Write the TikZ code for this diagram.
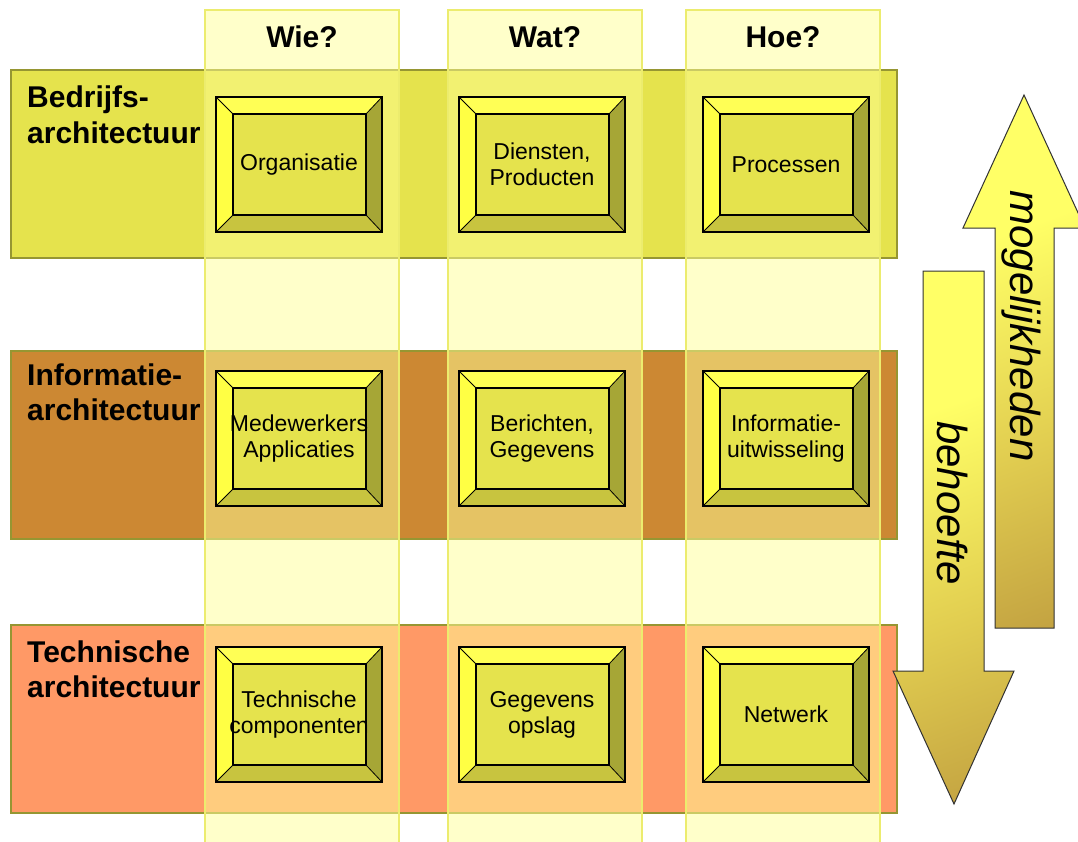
\documentclass[tikz,border=0pt]{standalone}
\usepackage{fontspec}
\setmainfont{Liberation Sans}
\definecolor{bandA}{RGB}{229,227,77}
\definecolor{bandB}{RGB}{204,136,51}
\definecolor{bandC}{RGB}{255,153,102}
\definecolor{bandline}{RGB}{150,150,50}
\definecolor{colfill}{RGB}{255,255,150}
\definecolor{colline}{RGB}{236,236,110}
\definecolor{bevT}{RGB}{255,255,85}
\definecolor{bevL}{RGB}{255,255,68}
\definecolor{bevR}{RGB}{166,166,54}
\definecolor{bevB}{RGB}{200,196,63}
\definecolor{face}{RGB}{229,227,77}
\definecolor{arrY}{RGB}{255,255,102}
\definecolor{arrG}{RGB}{225,205,80}
\definecolor{arrB}{RGB}{168,124,52}
\definecolor{arrline}{RGB}{50,50,50}
\pgfdeclareverticalshading{arrshade}{100bp}{color(0bp)=(arrB); color(40bp)=(arrG); color(65bp)=(arrY); color(100bp)=(arrY)}
\tikzset{
  band/.style={draw=bandline, line width=1.2pt},
  column/.style={fill=colfill, fill opacity=0.5, draw=colline, line width=1.2pt},
  header/.style={font=\fontsize{30}{36}\selectfont\bfseries, anchor=base, inner sep=0pt},
  rowlab/.style={font=\fontsize{30}{36}\selectfont\bfseries, anchor=base west, inner sep=0pt},
  boxtext/.style={font=\fontsize{23}{26}\selectfont, align=center, inner sep=0pt},
  boxline/.style={draw=black, line width=1.4pt},
  bigarrow/.style={shading=arrshade, shading angle=20, draw=arrline, line width=1pt},
  arrtext/.style={font=\fontsize{42}{48}\selectfont\itshape, rotate=-90, anchor=base, inner sep=0pt}
}
\newcommand\bevbox[4]{%
  \begin{scope}[shift={(#2,#3)}]
    \fill[bevT] (0,0) -- (166,0) -- (150,17) -- (17,17) -- cycle;
    \fill[bevL] (0,0) -- (17,17) -- (17,118) -- (0,135) -- cycle;
    \fill[bevR] (166,0) -- (166,135) -- (150,118) -- (150,17) -- cycle;
    \fill[bevB] (0,135) -- (17,118) -- (150,118) -- (166,135) -- cycle;
    \fill[face] (17,17) rectangle (150,118);
    \draw[boxline] (0,0) rectangle (166,135);
    \draw[boxline] (17,17) rectangle (150,118);
    \draw[black, line width=0.8pt] (0,0) -- (17,17) (166,0) -- (150,17)
      (0,135) -- (17,118) (166,135) -- (150,118);
    \begin{scope}
      \clip (12,17) rectangle (151,118);
      \node[boxtext] (#1) at (83,67.5) {#4};
    \end{scope}
  \end{scope}}
\begin{document}
\begin{tikzpicture}[x=1pt, y=-1pt]
\clip (0,0) rectangle (1078,841);
\fill[white] (0,0) rectangle (1078,841);
% row bands
\draw[band, fill=bandA] (11,70) rectangle (897,258);
\draw[band, fill=bandB] (11,351) rectangle (897,539);
\draw[band, fill=bandC] (11,625) rectangle (897,813);
% row labels
\begin{scope}
  \clip (0,0) rectangle (204,841);
  \node[rowlab] (r1a) at (27,107) {Bedrijfs-};
  \node[rowlab] (r1b) at (27,143) {architectuur};
  \node[rowlab] (r2a) at (27,385) {Informatie-};
  \node[rowlab] (r2b) at (27,420) {architectuur};
  \node[rowlab] (r3a) at (27,662) {Technische};
  \node[rowlab] (r3b) at (27,697) {architectuur};
\end{scope}
% columns
\path[column] (205,10) rectangle (399,850);
\path[column] (448,10) rectangle (642,850);
\path[column] (686,10) rectangle (880,850);
\node[header] (h1) at (302,47) {Wie?};
\node[header] (h2) at (545,47) {Wat?};
\node[header] (h3) at (783,47) {Hoe?};
% boxes
\bevbox{b11}{216}{97}{Organisatie}
\bevbox{b12}{459}{97}{Diensten,\\Producten}
\bevbox{b13}{703}{97}{Processen}
\bevbox{b21}{216}{371}{Medewerkers\\Applicaties}
\bevbox{b22}{459}{371}{Berichten,\\Gegevens}
\bevbox{b23}{703}{371}{Informatie-\\uitwisseling}
\bevbox{b31}{216}{647}{Technische\\componenten}
\bevbox{b32}{459}{647}{Gegevens\\opslag}
\bevbox{b33}{703}{647}{Netwerk}
% arrows
\path[bigarrow] (1024,95) -- (1085,228) -- (1054,228) -- (1054,628) -- (995,628) -- (995,228) -- (963,228) -- cycle;
\path[bigarrow] (923,271) -- (984,271) -- (984,671) -- (1014,671) -- (954,804) -- (893,671) -- (923,671) -- cycle;
\node[arrtext] (mog) at (1010,326) {mogelijkheden};
\node[arrtext] (beh) at (937,503) {behoefte};
\end{tikzpicture}
\end{document}
